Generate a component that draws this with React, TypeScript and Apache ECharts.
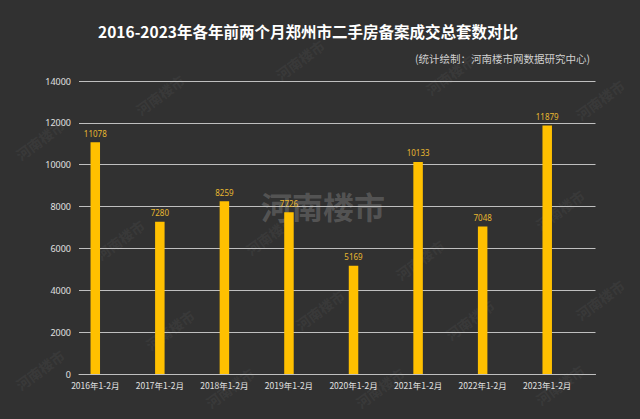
import React, { useEffect, useRef } from "react";
import * as echarts from "echarts";

const categories = [
  "2016年1-2月",
  "2017年1-2月",
  "2018年1-2月",
  "2019年1-2月",
  "2020年1-2月",
  "2021年1-2月",
  "2022年1-2月",
  "2023年1-2月",
];
const values = [11078, 7280, 8259, 7726, 5169, 10133, 7048, 11879];
const emptySeries = categories.map(() => "-");

const titleText = "2016-2023年各年前两个月郑州市二手房备案成交总套数对比";
const subtitleText = "(统计绘制：河南楼市网数据研究中心)";
const watermarkText = "河南楼市";

const smallMarks: [number, number][] = [
  [40, 140], [160, 95], [300, 60], [450, 75], [600, 100],
  [120, 240], [270, 235], [420, 260], [560, 210],
  [40, 370], [170, 330], [320, 310], [470, 320], [600, 300],
  [230, 388], [380, 388], [560, 385],
];

export default function App() {
  const ref = useRef<HTMLDivElement>(null);
  useEffect(() => {
    if (!ref.current) return;
    const chart = echarts.init(ref.current, undefined, { renderer: "svg" });
    const graphics: any[] = smallMarks.map(([x, y]) => ({
      type: "text",
      x,
      y,
      rotation: Math.PI / 5,
      z: -1,
      style: {
        text: watermarkText,
        fontSize: 14,
        fontWeight: "bold",
        fontFamily: "Noto Sans CJK SC",
        fill: "rgba(120,120,120,0.15)",
        align: "center",
        verticalAlign: "middle",
      },
    }));
    graphics.push({
      type: "text",
      x: 323,
      y: 205,
      z: -1,
      style: {
        text: watermarkText,
        fontSize: 31,
        fontWeight: "bold",
        fontFamily: "Noto Sans CJK SC",
        fill: "rgba(140,140,140,0.4)",
        align: "center",
        verticalAlign: "middle",
      },
    });
    graphics.push({
      type: "text",
      x: 308,
      y: 31,
      style: {
        text: titleText,
        fontSize: 15.5,
        fontWeight: "bold",
        fontFamily: "Noto Sans CJK SC",
        fill: "#ffffff",
        align: "center",
        verticalAlign: "middle",
      },
    });
    graphics.push({
      type: "text",
      x: 590,
      y: 58,
      style: {
        text: subtitleText,
        fontSize: 10.5,
        fontFamily: "Noto Sans CJK SC",
        fill: "#d0d0d0",
        align: "right",
        verticalAlign: "middle",
      },
    });
    chart.setOption({
      animation: false,
      backgroundColor: "#313131",
      graphic: graphics,
      grid: { left: 79, right: 44.5, top: 81, bottom: 45, containLabel: false },
      xAxis: {
        type: "category",
        data: categories,
        axisLine: { show: true, lineStyle: { color: "#bfbfbf", width: 1 } },
        axisTick: { show: false },
        axisLabel: {
          color: "#e0e0e0",
          fontSize: 8.5,
          fontFamily: "Noto Sans CJK SC",
          margin: 7,
          padding: [0, 32, 0, 0],
          interval: 0,
        },
      },
      yAxis: {
        type: "value",
        min: 0,
        max: 14000,
        interval: 2000,
        axisLine: { show: false },
        axisTick: { show: false },
        splitLine: { lineStyle: { color: "#bfbfbf", width: 1 } },
        axisLabel: {
          color: "#e0e0e0",
          fontSize: 9,
          fontFamily: "Noto Sans",
          margin: 8,
          formatter: (v: number) => String(v),
        },
      },
      series: [
        {
          type: "bar",
          data: values,
          barWidth: 9.5,
          barGap: "237%",
          itemStyle: { color: "#FFC000" },
          label: {
            show: true,
            position: "top",
            distance: 5,
            color: "#e8b830",
            fontSize: 8,
            fontFamily: "Noto Sans",
          },
        },
        {
          type: "bar",
          data: emptySeries,
          barWidth: 9.5,
          itemStyle: { color: "transparent" },
        },
      ],
    });
    return () => chart.dispose();
  }, []);
  return (
    <div
      ref={ref}
      style={{ position: "fixed", left: 0, top: 0, width: 640, height: 419 }}
    />
  );
}
